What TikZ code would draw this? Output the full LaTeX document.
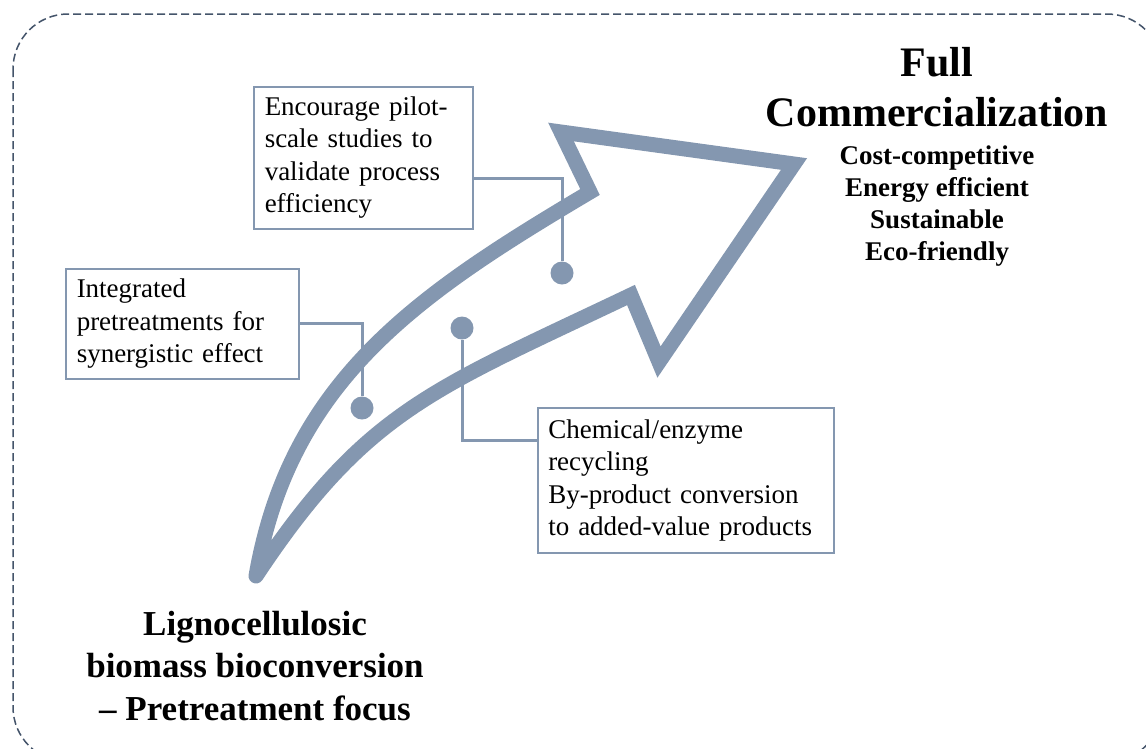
\documentclass[tikz,border=0pt]{standalone}
\usepackage{fontspec}
\setmainfont{Liberation Serif}
\definecolor{slate}{RGB}{132,151,176}
\definecolor{framegray}{RGB}{68,84,106}
\tikzset{
  box/.style={draw=slate, line width=1.5pt, fill=white, anchor=north west,
    align=left, inner xsep=11pt, font=\fontsize{27}{32.5}\selectfont},
  dot/.style={circle, fill=slate, inner sep=0pt, minimum size=23pt},
  link/.style={draw=slate, line width=3pt},
  heading/.style={align=center, inner sep=0pt,
    font=\bfseries\fontsize{42}{50}\selectfont}
}

\begin{document}
\begin{tikzpicture}[x=1pt,y=-1pt]
\useasboundingbox (0,0) rectangle (1146,748);
\clip (0,0) rectangle (1146,748);
% dashed frame
\draw[framegray, line width=1.5pt, dash pattern=on 8pt off 4pt,
  rounded corners=55pt] (13,14) rectangle (1162,762);
% the big arrow
\coordinate (tail) at (256,576);
\coordinate (notchtop) at (590,192);
\coordinate (backtop) at (561,132);
\coordinate (tip) at (794,164);
\coordinate (backbot) at (659,362);
\coordinate (notchbot) at (631,295);
\draw[slate, line width=15pt, line cap=round, line join=miter]
  (tail) .. controls (290,380) and (418,294) .. (notchtop)
  -- (backtop) -- (tip) -- (backbot) -- (notchbot)
  .. controls (434,389) and (366,410) .. (tail);

\node[box, text width=197pt, minimum height=142pt] (pilot) at (253,86)
  {Encourage pilot-\\scale studies to\\validate process\\efficiency};
\node[box, text width=211pt, minimum height=110pt] (integ) at (65,268)
  {Integrated\\pretreatments for\\synergistic effect};
\node[box, text width=275pt, inner xsep=10.5pt, minimum height=145pt] (recyc)
  at (537,407)
  {Chemical/enzyme\\recycling\\By-product conversion\\to added-value products};

\node[dot] (dotpilot) at (562,273) {};
\node[dot] (dotinteg) at (362,408) {};
\node[dot] (dotrecyc) at (462,328) {};

\draw[link] (pilot.east) ++(0,21) -| (dotpilot)
            (integ.east) -| (dotinteg)
            (recyc.west) ++(0,-39.5) -| (dotrecyc)
;

\node[heading] (fullcom) at (937,87) {Full\\Commercialization};
\node[heading, font=\bfseries\fontsize{27}{31.7}\selectfont] (goals)
  at (937,206) {Cost-competitive\\Energy efficient\\Sustainable\\Eco-friendly};
\node[heading, font=\bfseries\fontsize{35}{42.5}\selectfont] (biomass)
  at (255,666) {Lignocellulosic\\biomass bioconversion\\-- Pretreatment focus};
\end{tikzpicture}
\end{document}
